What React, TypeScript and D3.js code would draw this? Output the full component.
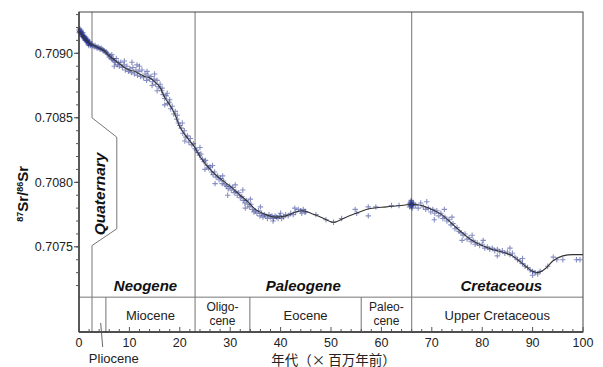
import React from "react";
import * as d3 from "d3";

// smoothed curve: [age Ma, 87Sr/86Sr]
const curve: [number, number][] = [
  [0, 0.70917], [1, 0.70912], [2, 0.70908], [3, 0.70906], [4, 0.70904], [5, 0.70902],
  [6, 0.70898], [7, 0.70895], [8, 0.70892], [9, 0.70889], [10, 0.70887], [11, 0.70886],
  [12, 0.70884], [13, 0.70882], [14, 0.70881], [15, 0.70878], [16, 0.70874], [17, 0.70866],
  [18, 0.7086], [19, 0.70853], [20, 0.70843], [21, 0.70837], [22, 0.70832], [23, 0.70827],
  [24, 0.7082], [26, 0.7081], [28, 0.70803], [30, 0.70797], [32, 0.7079], [33.5, 0.70785],
  [35, 0.70779], [37, 0.70775], [39, 0.70773], [41, 0.70774], [43, 0.70777], [44.5, 0.70778],
  [46, 0.70776], [48, 0.70773], [50.5, 0.70769], [53, 0.70773], [55, 0.70776], [57, 0.70779],
  [61, 0.70781], [64, 0.70782], [66, 0.70783], [68, 0.70782], [70, 0.70779], [72, 0.70775],
  [74, 0.70768], [76, 0.70761], [78, 0.70755], [80, 0.70751], [82, 0.70748], [84, 0.70746],
  [86, 0.70743], [88, 0.70737], [90, 0.70731], [91, 0.7073], [92.5, 0.70733], [94, 0.70739],
  [96, 0.70743], [98, 0.70744], [100, 0.70744],
];

// individual measurements
const samples: [number, number][] = [
  [0, 0.70918], [0.1, 0.70917], [0.2, 0.70917], [0.3, 0.70916], [0.4, 0.70916], [0.5, 0.70915],
  [0.6, 0.70915], [0.7, 0.70914], [0.8, 0.70913], [0.9, 0.70913], [1.0, 0.70912], [1.1, 0.70912],
  [1.2, 0.70911], [1.3, 0.70911], [1.4, 0.7091], [1.5, 0.7091], [1.6, 0.70909], [1.7, 0.70909],
  [1.8, 0.70908], [1.9, 0.70908], [2.0, 0.70908], [2.2, 0.70907], [2.4, 0.70907], [0.15, 0.70919],
  [0.35, 0.70918], [0.55, 0.70914], [0.75, 0.70916], [0.95, 0.70914], [1.15, 0.70913], [1.35, 0.70912],
  [1.55, 0.70911], [1.75, 0.7091], [1.95, 0.70906], [2.1, 0.70909], [2.3, 0.70906], [0.05, 0.70916],
  [0.45, 0.70917], [0.65, 0.70913], [0.85, 0.70912], [1.25, 0.7091], [1.45, 0.70909], [1.65, 0.7091],
  [1.85, 0.70907],
  [2.6, 0.70907], [2.8, 0.70906], [3.0, 0.70905], [3.2, 0.70906], [3.4, 0.70905], [3.6, 0.70904],
  [3.8, 0.70905], [4.0, 0.70904], [4.2, 0.70903], [4.4, 0.70904], [4.6, 0.70903], [4.8, 0.70902],
  [5.0, 0.70902], [5.2, 0.70901], [5.4, 0.70901], [5.6, 0.709], [5.8, 0.70899], [6.0, 0.70897],
  [6.2, 0.70898], [6.4, 0.70896], [6.6, 0.70895], [6.8, 0.70896], [7.0, 0.70894], [7.2, 0.70893],
  [7.4, 0.70896], [7.6, 0.70891], [7.8, 0.70893], [8.0, 0.7089], [8.3, 0.70893], [8.6, 0.70889],
  [8.9, 0.70891], [9.2, 0.70887], [9.5, 0.7089], [9.8, 0.70886], [10.1, 0.70888], [10.4, 0.70885],
  [10.7, 0.70889], [11.0, 0.70884], [11.3, 0.70887], [11.6, 0.70883], [11.9, 0.70886], [12.2, 0.70882],
  [12.5, 0.70887], [12.8, 0.70881], [13.1, 0.70884], [13.4, 0.70879], [13.7, 0.70883], [14.0, 0.7088],
  [14.3, 0.70882], [14.6, 0.70878], [14.9, 0.7088], [15.2, 0.70876], [15.5, 0.70879], [15.8, 0.70874],
  [16.1, 0.70876], [16.4, 0.70871], [16.7, 0.70868], [17.0, 0.70865], [17.3, 0.70867], [17.6, 0.70861],
  [17.9, 0.70862], [18.2, 0.70857], [18.5, 0.70859], [18.8, 0.70853], [19.1, 0.70855], [19.4, 0.70849],
  [19.7, 0.70846], [20.0, 0.70844], [20.3, 0.70842], [20.6, 0.70838], [20.9, 0.7084], [21.2, 0.70835],
  [21.5, 0.70836], [21.8, 0.70831], [22.1, 0.70834], [22.4, 0.70829], [22.7, 0.7083], [23.0, 0.70826],
  [10.5, 0.70893], [11.5, 0.70891], [12.0, 0.7089], [9.0, 0.70894], [13.5, 0.70886], [6.5, 0.70899],
  [7.0, 0.7089], [14.5, 0.70875], [16.5, 0.70873], [18.0, 0.70864], [19.5, 0.70852], [21.0, 0.70832],
  [15.0, 0.70884], [17.5, 0.70869], [20.5, 0.70846], [15.5, 0.70871], [17.0, 0.7086],
  [23.3, 0.70825], [23.6, 0.70823], [23.9, 0.70821], [24.2, 0.70822], [24.5, 0.70818], [24.8, 0.70816],
  [25.1, 0.70817], [25.4, 0.70813], [25.7, 0.70811], [26.0, 0.70812], [26.3, 0.70808], [26.6, 0.70806],
  [26.9, 0.70808], [27.2, 0.70804], [27.5, 0.70805], [27.8, 0.70802], [28.1, 0.70803], [28.4, 0.70799],
  [28.7, 0.70801], [29.0, 0.70798], [29.3, 0.70797], [29.6, 0.70795], [29.9, 0.70797], [30.2, 0.70794],
  [30.5, 0.70796], [30.8, 0.70792], [31.1, 0.70793], [31.4, 0.7079], [31.7, 0.70792], [32.0, 0.70788],
  [32.3, 0.70789], [32.6, 0.70786], [32.9, 0.70784], [33.2, 0.70786], [33.5, 0.70783], [33.8, 0.70781],
  [34.1, 0.70783], [34.4, 0.70779], [34.7, 0.70777], [35.0, 0.70778], [24.0, 0.70827], [25.0, 0.7081],
  [26.5, 0.70813], [27.0, 0.70799], [28.5, 0.70805], [29.5, 0.7079], [31.0, 0.70798], [32.5, 0.70794],
  [33.0, 0.7078], [34.0, 0.70787],
  [35.3, 0.70776], [35.6, 0.70778], [35.9, 0.70774], [36.2, 0.70776], [36.5, 0.70773], [36.8, 0.70775],
  [37.1, 0.70774], [37.4, 0.70772], [37.7, 0.70775], [38.0, 0.70773], [38.3, 0.70774], [38.6, 0.70772],
  [38.9, 0.70774], [39.2, 0.70773], [39.5, 0.70772], [39.8, 0.70774], [40.2, 0.70772], [40.6, 0.70773],
  [41.0, 0.70775], [41.5, 0.70774], [42.0, 0.70776], [42.5, 0.70775], [43.0, 0.70777], [43.5, 0.70779],
  [44.0, 0.70778], [44.5, 0.70779], [45.0, 0.70777], [36.0, 0.70781], [38.5, 0.7077], [40.0, 0.70776],
  [42.8, 0.7078], [44.2, 0.70776],
  [44.8, 0.70777], [50.5, 0.70769], [52.1, 0.70772], [54.8, 0.70779], [55.1, 0.70776], [57.4, 0.70781],
  [57.4, 0.70774], [58.9, 0.70781], [62.0, 0.70782], [63.5, 0.70782], [47.0, 0.70775], [49.0, 0.70771],
  [65.5, 0.70783], [65.7, 0.70784], [65.8, 0.70782], [65.9, 0.70785], [66.0, 0.70783], [66.0, 0.70781],
  [66.1, 0.70784], [66.2, 0.70782], [65.6, 0.70781], [66.3, 0.70783], [65.9, 0.70786], [66.1, 0.7078],
  [66.4, 0.70784], [65.8, 0.70784],
  [66.8, 0.70782], [67.3, 0.7078], [67.8, 0.70784], [68.3, 0.70781], [68.8, 0.70779], [69.3, 0.7078],
  [69.8, 0.70777], [70.2, 0.70779], [70.6, 0.70776], [71.0, 0.70778], [71.4, 0.70774], [71.8, 0.70776],
  [72.2, 0.70772], [72.6, 0.70773], [73.0, 0.7077], [73.4, 0.70771], [73.8, 0.70767], [74.2, 0.70768],
  [74.6, 0.70764], [75.0, 0.70765], [75.4, 0.70762], [75.8, 0.70761], [76.2, 0.70759], [76.6, 0.7076],
  [77.0, 0.70756], [77.4, 0.70757], [77.8, 0.70754], [78.2, 0.70755], [78.6, 0.70752], [79.0, 0.70753],
  [79.5, 0.70751], [80.0, 0.70752], [80.5, 0.70749], [81.0, 0.7075], [81.5, 0.70748], [82.0, 0.70749],
  [82.5, 0.70747], [83.0, 0.70748], [83.5, 0.70746], [84.0, 0.70747], [84.5, 0.70745], [85.0, 0.70746],
  [85.5, 0.70744], [86.0, 0.70745], [86.5, 0.70742], [87.0, 0.7074], [87.5, 0.70739], [88.0, 0.70737],
  [88.5, 0.70735], [89.0, 0.70734], [89.5, 0.70732], [90.0, 0.70731], [90.5, 0.7073], [91.0, 0.70729],
  [91.5, 0.70731], [70.5, 0.70771], [72.5, 0.70779], [69.0, 0.70785], [74.0, 0.70773], [76.0, 0.70755],
  [78.0, 0.70759], [80.2, 0.70755], [83.0, 0.70743], [85.5, 0.70749], [88.0, 0.70741], [90.0, 0.70728],
  [93.0, 0.70735], [94.1, 0.70742], [94.8, 0.7074], [96.0, 0.7074], [98.7, 0.7074], [99.4, 0.7074],
];

const periods = [
  { name: "Neogene", labelAt: 13.2 },
  { name: "Paleogene", labelAt: 44.5 },
  { name: "Cretaceous", labelAt: 83.8 },
];
const epochs = [
  { lines: ["Miocene"], start: 5.33, end: 23.03 },
  { lines: ["Oligo-", "cene"], start: 23.03, end: 33.9 },
  { lines: ["Eocene"], start: 33.9, end: 56 },
  { lines: ["Paleo-", "cene"], start: 56, end: 66 },
  { lines: ["Upper Cretaceous"], start: 66, end: 100 },
];
const fullBoundaries = [2.58, 23.03, 66];
const epochBoundaries = [5.33, 33.9, 56];
const yLabels = [0.7075, 0.708, 0.7085, 0.709];
const xLabels = [0, 10, 20, 30, 40, 50, 60, 70, 80, 90, 100];

const W = 603;
const H = 367;
const sans = "'Liberation Sans', Arial, Helvetica, sans-serif";

export default function App() {
  const x = d3.scaleLinear().domain([0, 100]).range([79, 583]);
  const y = d3.scaleLinear().domain([0.70684, 0.70932]).range([332, 12]);
  const bandTop = y(0.70711);
  const [x0, x1] = x.range();
  const [yb, yt] = y.range();

  const line = d3
    .line<[number, number]>()
    .x((d) => x(d[0]))
    .y((d) => y(d[1]))
    .curve(d3.curveMonotoneX);

  const yMinor = d3.range(7072, 7094).map((v) => v / 10000);
  const xMinor = d3.range(0, 101, 2);

  // Quaternary label box
  const qx = x(2.58);
  const qOut = x(7.5);
  const qPath = [
    [qx, yt],
    [qx, y(0.7085)],
    [qOut, y(0.70835)],
    [qOut, y(0.70764)],
    [qx, y(0.70751)],
    [qx, yb],
  ]
    .map((p, i) => (i ? "L" : "M") + p[0] + "," + p[1])
    .join("");

  return (
    <svg width={W} height={H} style={{ position: "absolute", left: 0, top: 0 }} fontFamily={sans}>
      <rect width={W} height={H} fill="white" />

      {/* boundaries */}
      {fullBoundaries.slice(1).map((b) => (
        <line key={b} x1={x(b)} x2={x(b)} y1={yt} y2={yb} stroke="#8a8a8a" strokeWidth={1.2} />
      ))}
      {epochBoundaries.map((b) => (
        <line key={b} x1={x(b)} x2={x(b)} y1={bandTop} y2={yb} stroke="#8a8a8a" strokeWidth={1.2} />
      ))}
      <path d={qPath} fill="none" stroke="#777" strokeWidth={1} />
      <line x1={x0} x2={x1} y1={bandTop} y2={bandTop} stroke="#777" strokeWidth={1} />

      {/* samples */}
      <g stroke="#26338c" strokeOpacity={0.55} strokeWidth={1.1}>
        {samples.map((d, i) => {
          const cx = x(d[0]);
          const cy = y(d[1]);
          return <path key={i} d={`M${cx - 2.7},${cy}H${cx + 2.7}M${cx},${cy - 2.7}V${cy + 2.7}`} />;
        })}
      </g>
      <path d={line(curve) || ""} fill="none" stroke="#333" strokeWidth={1.1} />

      {/* frame */}
      <rect x={x0} y={yt} width={x1 - x0} height={yb - yt} fill="none" stroke="#444" strokeWidth={1} />
      <line x1={x0} x2={x0} y1={yt} y2={yb} stroke="#333" strokeWidth={1.3} />
      <line x1={x0} x2={x1} y1={yb} y2={yb} stroke="#333" strokeWidth={1.3} />

      {/* y ticks */}
      {yMinor.map((v) => (
        <line key={v} x1={x0 - 3} x2={x0} y1={y(v)} y2={y(v)} stroke="#555" />
      ))}
      {yLabels.map((v) => (
        <g key={v}>
          <line x1={x0 - 5} x2={x0} y1={y(v)} y2={y(v)} stroke="#444" />
          <text x={x0 - 6} y={y(v)} dy="0.35em" textAnchor="end" fontSize={12.5} fill="#222">
            {d3.format(".4f")(v)}
          </text>
        </g>
      ))}

      {/* x ticks */}
      {xMinor.map((v) => (
        <line key={v} x1={x(v)} x2={x(v)} y1={yb} y2={yb - (v % 10 === 0 ? 5 : 3)} stroke="#555" />
      ))}
      {xLabels.map((v) => (
        <text key={v} x={x(v)} y={yb + 15} textAnchor="middle" fontSize={12.5} fill="#222">
          {v}
        </text>
      ))}

      {/* period & epoch labels */}
      {periods.map((p) => (
        <text key={p.name} x={x(p.labelAt)} y={bandTop - 6} textAnchor="middle" fontSize={15}
          fontWeight="bold" fontStyle="italic" fill="#111">
          {p.name}
        </text>
      ))}
      {epochs.map((e) =>
        e.lines.map((t, i) => (
          <text key={t + e.start} x={x((e.start + e.end) / 2)}
            y={e.lines.length === 1 ? bandTop + 23 : bandTop + 14 + i * 13.8}
            textAnchor="middle" fontSize={e.lines.length === 1 ? 13 : 12} fill="#222">
            {t}
          </text>
        ))
      )}

      <text transform={`translate(${qx + 12.5},${y(0.70791)}) rotate(-90)`} textAnchor="middle"
        fontSize={15.5} fontWeight="bold" fontStyle="italic" fill="#111">
        Quaternary
      </text>

      {/* Pliocene pointer */}
      <line x1={x(4.3)} x2={x(4.7)} y1={yb - 9} y2={yb + 15} stroke="#555" strokeWidth={0.9} />
      <text x={x(6.9)} y={yb + 30.5} textAnchor="middle" fontSize={13} fill="#222">Pliocene</text>

      {/* axis titles */}
      <text transform={`translate(28,${y(0.70791)}) rotate(-90)`} textAnchor="middle" fontWeight="bold" fill="#111">
        <tspan fontSize={9} dy={-5}>87</tspan>
        <tspan fontSize={15} dy={5}>Sr/</tspan>
        <tspan fontSize={9} dy={-5}>86</tspan>
        <tspan fontSize={15} dy={5}>Sr</tspan>
      </text>
      <text x={x(50.5)} y={yb + 32.5} textAnchor="middle" fontSize={13.5} fill="#222"
        fontFamily="'Noto Sans CJK JP', sans-serif">
        年代（× 百万年前）
      </text>
    </svg>
  );
}
